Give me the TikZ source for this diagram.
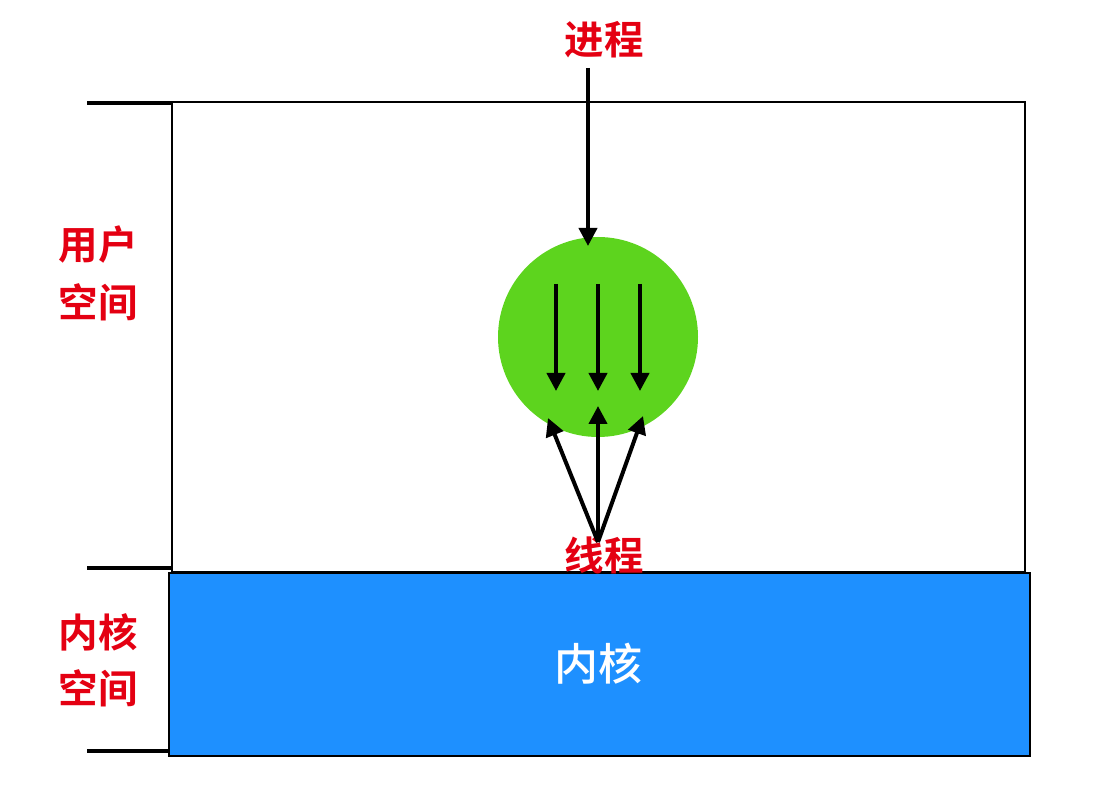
\documentclass[tikz,border=0pt]{standalone}
\usepackage{fontspec}
\newfontfamily\cjk{Noto Sans CJK SC}[BoldFont={Noto Sans CJK SC Bold}]
\newfontfamily\cjkmed{Noto Sans CJK SC Medium}
\usetikzlibrary{arrows.meta}
\definecolor{lblred}{RGB}{228,0,18}
\definecolor{procgreen}{RGB}{93,212,30}
\definecolor{kernblue}{RGB}{30,144,255}
\tikzset{
  redlbl/.style={text=lblred, font=\cjk\bfseries\fontsize{39.5}{48}\selectfont, inner sep=0pt, align=center},
  tick/.style={line width=3.5pt},
  arr/.style={line width=4pt, -{Triangle[length=18pt,width=18pt]}},
}
\begin{document}
\begin{tikzpicture}[x=1pt,y=-1pt]
\useasboundingbox (0,0) rectangle (1120,810);
% user space box
\draw[line width=2pt] (172,102) rectangle (1025,572);
% kernel box
\node[draw=black, line width=2pt, fill=kernblue, minimum width=861pt, minimum height=183pt, inner sep=0pt, anchor=north west] (kern) at (168,572) {};
\node[text=white, font=\cjkmed\fontsize{44}{52}\selectfont, inner sep=0pt] (kernlbl) at (598,664) {内核};
% ticks
\draw[tick] (87,103) -- (172,103);
\draw[tick] (87,568) -- (172,568);
\draw[tick] (87,751) -- (170,751);
% side labels
\node[redlbl] (us1) at (98,245) {用户};
\node[redlbl] (us2) at (98,302) {空间};
\node[redlbl] (ks1) at (98,632) {内核};
\node[redlbl] (ks2) at (98,688) {空间};
% process
\node[redlbl] (proc) at (604,40) {进程};
\node[circle, fill=procgreen, minimum size=200pt, inner sep=0pt] (circ) at (598,337) {};
\coordinate (procstart) at (588,68);
\coordinate (proctip) at (588,246);
\draw[arr] (procstart) -- (proctip);
% threads
\node[redlbl] (thr) at (604,555) {线程};
\coordinate (a1) at (556,284); \coordinate (b1) at (556,391);
\coordinate (a2) at (598,284); \coordinate (b2) at (598,391);
\coordinate (a3) at (640,284); \coordinate (b3) at (640,391);
\draw[arr] (a1) -- (b1);
\draw[arr] (a2) -- (b2);
\draw[arr] (a3) -- (b3);
\coordinate (src) at (598,542);
\coordinate (u1) at (548,418);
\coordinate (u2) at (598,406);
\coordinate (u3) at (643,416);
\draw[arr] (src) -- (u1);
\draw[arr] (src) -- (u2);
\draw[arr] (src) -- (u3);
\end{tikzpicture}
\end{document}
